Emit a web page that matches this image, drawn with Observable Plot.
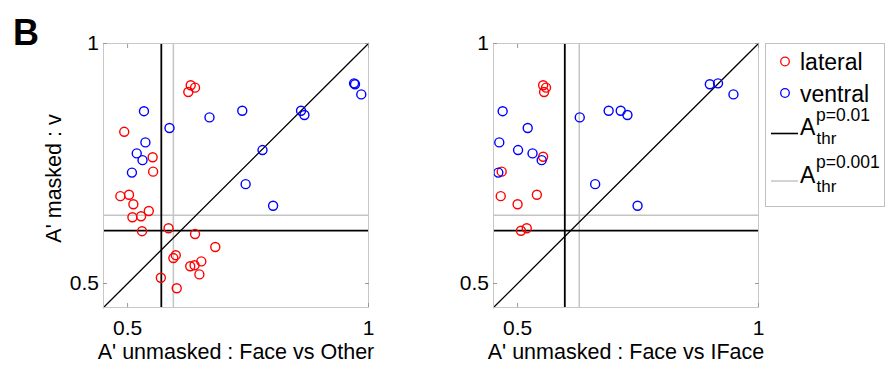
<!DOCTYPE html>
<html>
<head>
<meta charset="utf-8">
<script src="https://cdn.jsdelivr.net/npm/d3@7"></script>
<script src="https://cdn.jsdelivr.net/npm/@observablehq/plot@0.6"></script>
<style>
  html, body { margin: 0; padding: 0; background: #fff; }
  #fig { position: relative; width: 886px; height: 365px; overflow: hidden;
         font-family: "Liberation Sans", Arial, sans-serif; }
  #fig > svg { position: absolute; top: 0; }
</style>
</head>
<body>
<div id="fig"></div>
<script>
// Shared axes: A' from 0.45 to 1, ticks at 0.5 and 1
const axisDomain = [0.45, 1];
const axisTicks = [0.5, 1];

// Detection thresholds (A' masked, shared y) and per-test x thresholds
const thrY01 = 0.61;
const thrY001 = 0.642;
const thrX01 = [0.57, 0.598];   // Face vs Other, Face vs IFace
const thrX001 = [0.595, 0.628];

// Face vs Other — lateral sites
const lateralOtherX = [0.626, 0.631, 0.640, 0.493, 0.552, 0.553, 0.485, 0.503, 0.512, 0.544, 0.510, 0.528,
                       0.530, 0.585, 0.640, 0.682, 0.600, 0.595, 0.653, 0.630, 0.639, 0.649, 0.569, 0.602];
const lateralOtherY = [0.899, 0.913, 0.908, 0.816, 0.763, 0.733, 0.682, 0.685, 0.665, 0.651, 0.638, 0.640,
                       0.609, 0.615, 0.603, 0.576, 0.559, 0.553, 0.546, 0.536, 0.538, 0.519, 0.512, 0.490];
// Face vs Other — ventral sites
const ventralOtherX = [0.534, 0.587, 0.670, 0.738, 0.860, 0.867, 0.970, 0.972, 0.985, 0.537, 0.519, 0.531,
                       0.509, 0.780, 0.745, 0.802];
const ventralOtherY = [0.859, 0.824, 0.846, 0.860, 0.860, 0.851, 0.917, 0.915, 0.894, 0.794, 0.771, 0.757,
                       0.731, 0.778, 0.707, 0.662];

// Face vs IFace — lateral sites
const lateralIFaceX = [0.553, 0.559, 0.555, 0.553, 0.467, 0.465, 0.500, 0.540, 0.507, 0.519];
const lateralIFaceY = [0.913, 0.908, 0.899, 0.764, 0.733, 0.682, 0.665, 0.685, 0.610, 0.615];
// Face vs IFace — ventral sites
const ventralIFaceX = [0.469, 0.521, 0.462, 0.501, 0.531, 0.550, 0.460, 0.629, 0.689, 0.714, 0.728, 0.899,
                       0.916, 0.948, 0.661, 0.749];
const ventralIFaceY = [0.859, 0.824, 0.794, 0.778, 0.771, 0.757, 0.731, 0.846, 0.860, 0.860, 0.851, 0.915,
                       0.917, 0.894, 0.707, 0.662];

const xLabels = ["A' unmasked : Face vs Other", "A' unmasked : Face vs IFace"];
const yLabel = "A' masked : v";
const legendLabels = ["lateral", "ventral"];

const RED = "#ff0000", BLUE = "#0000ff", GREY = "#c4c4c4", FRAME = "#c8c8c8", TICK = "#999";
const zip = (xs, ys) => xs.map((x, i) => ({x, y: ys[i]}));
const fmt = d => String(d);

function panel({width, marginLeft, marginRight, lateral, ventral, tx01, tx001, xLabel, yText}) {
  const marks = [
    Plot.ruleX([tx001], {stroke: GREY, strokeWidth: 1.5}),
    Plot.ruleY([thrY001], {stroke: GREY, strokeWidth: 1.5}),
    Plot.ruleX([tx01], {stroke: "black", strokeWidth: 1.8}),
    Plot.ruleY([thrY01], {stroke: "black", strokeWidth: 1.8}),
    // identity diagonal
    Plot.line(axisDomain, {x: d => d, y: d => d, stroke: "black", strokeWidth: 1.3}),
    Plot.dot(lateral, {x: "x", y: "y", r: 4.5, stroke: RED, strokeWidth: 1.4}),
    Plot.dot(ventral, {x: "x", y: "y", r: 4.5, stroke: BLUE, strokeWidth: 1.4}),
    Plot.frame({stroke: FRAME}),
    Plot.axisX(axisTicks, {anchor: "bottom", tickSize: -4, tickPadding: 17, stroke: TICK, tickFormat: fmt, label: null, fontSize: 21}),
    Plot.axisX(axisTicks, {anchor: "top", tickSize: -4, stroke: TICK, tickFormat: () => null, label: null}),
    Plot.axisY(axisTicks, {anchor: "left", tickSize: -4, tickPadding: 8.5, stroke: TICK, tickFormat: fmt, label: null, fontSize: 21}),
    Plot.axisY(axisTicks, {anchor: "right", tickSize: -4, stroke: TICK, tickFormat: () => null, label: null}),
    Plot.text([xLabel], {frameAnchor: "bottom", textAnchor: "middle", dy: 51, lineAnchor: "bottom", fontSize: 21.5, fill: "black"})
  ];
  if (yText) {
    marks.push(Plot.text([yText], {frameAnchor: "left", textAnchor: "middle", dx: -49, dy: 3, rotate: -90, fontSize: 21.5, fill: "black"}));
  }
  return Plot.plot({
    width, height: 365,
    marginLeft, marginRight, marginTop: 43, marginBottom: 58,
    x: {domain: axisDomain},
    y: {domain: axisDomain},
    style: {fontFamily: "Liberation Sans, Arial, sans-serif", fontSize: "21px", background: "transparent", color: "black"},
    marks
  });
}

const fig = document.getElementById("fig");

const left = panel({
  width: 400, marginLeft: 103, marginRight: 32,
  lateral: zip(lateralOtherX, lateralOtherY),
  ventral: zip(ventralOtherX, ventralOtherY),
  tx01: thrX01[0], tx001: thrX001[0],
  xLabel: xLabels[0], yText: yLabel
});
left.style.left = "0px";
fig.appendChild(left);

const right = panel({
  width: 446, marginLeft: 53, marginRight: 128,
  lateral: zip(lateralIFaceX, lateralIFaceY),
  ventral: zip(ventralIFaceX, ventralIFaceY),
  tx01: thrX01[1], tx001: thrX001[1],
  xLabel: xLabels[1], yText: null
});
right.style.left = "440px";
fig.appendChild(right);

// Panel letter and legend
const over = d3.create("svg")
  .attr("width", 886).attr("height", 365)
  .style("left", "0px")
  .attr("font-family", "Liberation Sans, Arial, sans-serif");

over.append("text").attr("x", 13).attr("y", 45)
  .attr("font-size", 36).attr("font-weight", "bold").text("B");

const lg = over.append("g");
lg.append("rect").attr("x", 765.5).attr("y", 43.5).attr("width", 119).attr("height", 163)
  .attr("fill", "white").attr("stroke", "#c0c0c0");

const symbolColors = [RED, BLUE];
const rowY = [61.5, 93];
legendLabels.forEach((name, i) => {
  lg.append("circle").attr("cx", 785).attr("cy", rowY[i]).attr("r", 4.3)
    .attr("fill", "none").attr("stroke", symbolColors[i]).attr("stroke-width", 1.3);
  lg.append("text").attr("x", 800).attr("y", rowY[i] + 8.7).attr("font-size", 23).text(name);
});

const thrEntries = [
  {p: "p=0.01", color: "black", width: 1.6, y: 133.5},
  {p: "p=0.001", color: GREY, width: 1.5, y: 181}
];
thrEntries.forEach(e => {
  lg.append("line").attr("x1", 771).attr("x2", 798).attr("y1", e.y).attr("y2", e.y)
    .attr("stroke", e.color).attr("stroke-width", e.width);
  lg.append("text").attr("x", 800).attr("y", e.y + 1.5).attr("font-size", 23).text("A");
  lg.append("text").attr("x", 816).attr("y", e.y - 12.8).attr("font-size", 17.5).text(e.p);
  lg.append("text").attr("x", 816.5).attr("y", e.y + 10.8).attr("font-size", 17).text("thr");
});

fig.appendChild(over.node());
</script>
</body>
</html>
